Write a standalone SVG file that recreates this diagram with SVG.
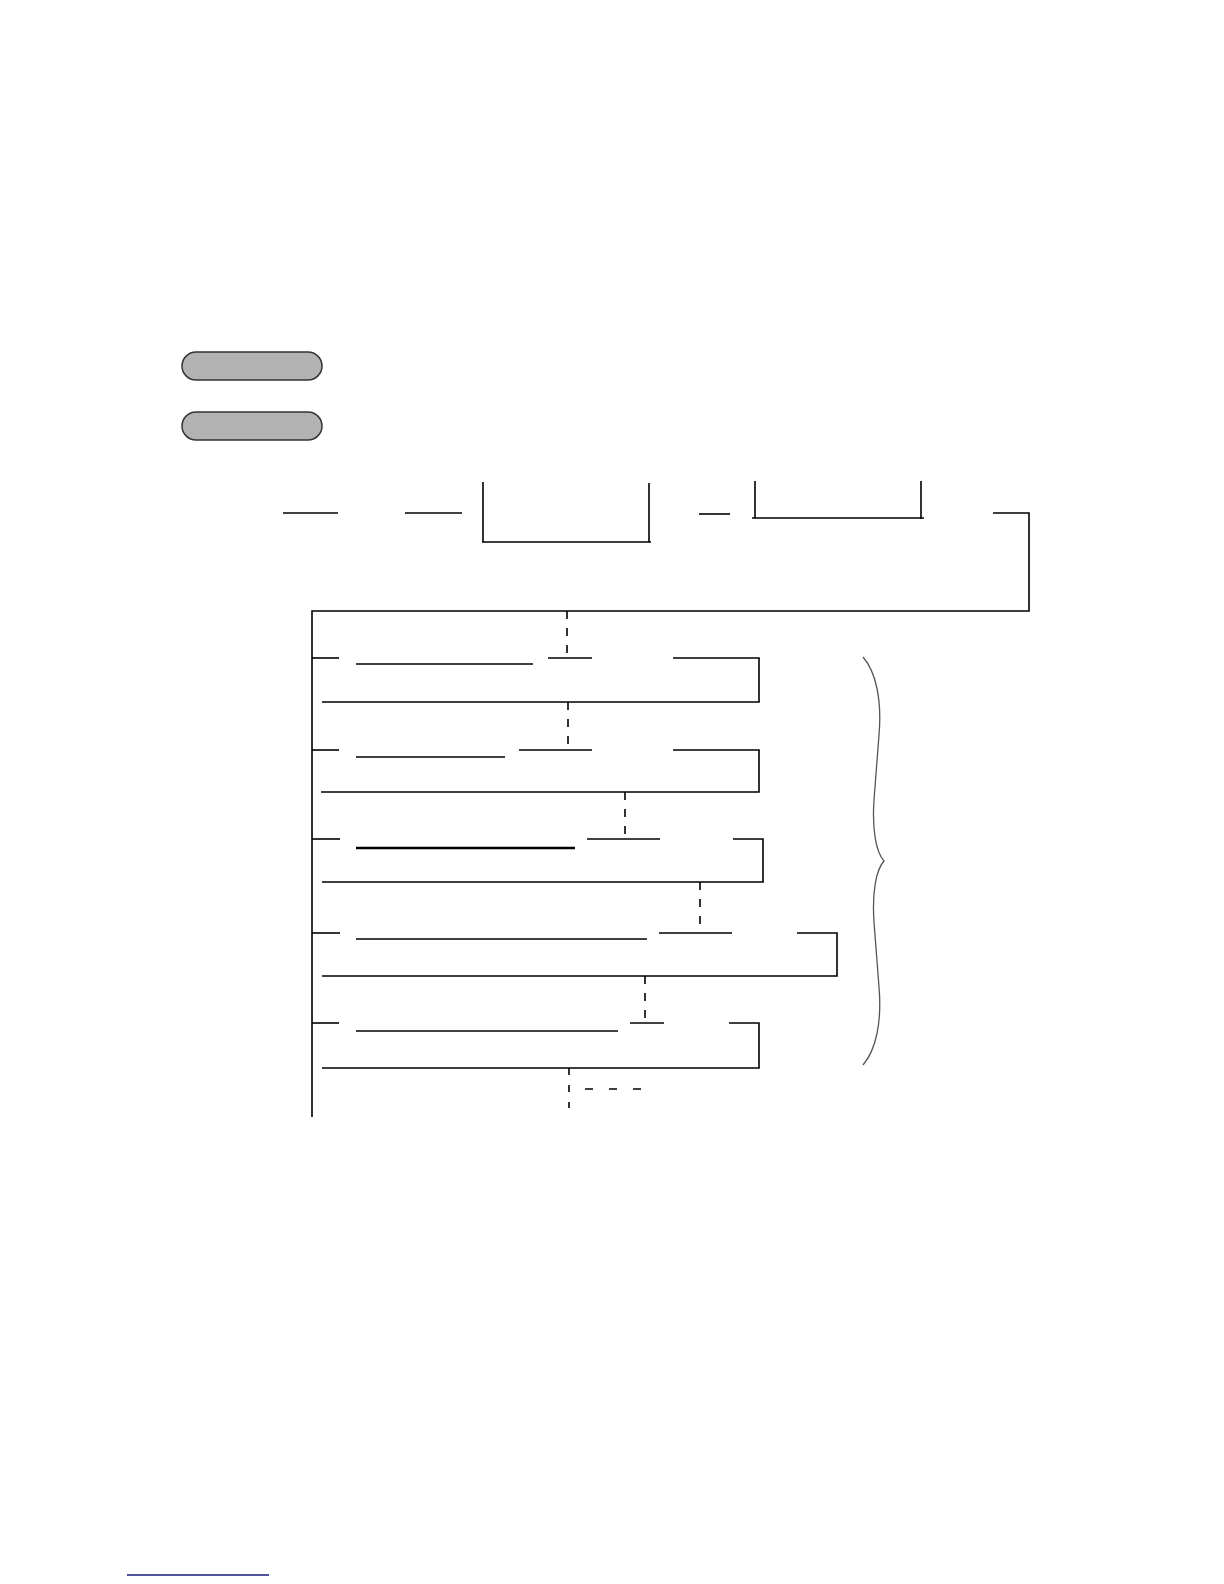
<svg xmlns="http://www.w3.org/2000/svg" width="1224" height="1584" viewBox="0 0 1224 1584">
<style>
.ln{stroke:#000;stroke-width:1.6;fill:none;stroke-linecap:butt}
.dv{stroke:#000;stroke-width:1.6;fill:none;stroke-dasharray:8 9}
.dh{stroke:#000;stroke-width:1.6;fill:none;stroke-dasharray:8 16}
.pill{fill:#b3b3b3;stroke:#333;stroke-width:1.5}
.brace{stroke:#555;stroke-width:1.3;fill:none}
</style>
<rect width="1224" height="1584" fill="#fff"/>
<g id="pill1"><rect class="pill" x="182" y="352" width="140" height="28" rx="14"/></g>
<g id="pill2"><rect class="pill" x="182" y="412" width="140" height="28" rx="14"/></g>
<g id="top-row">
<line class="ln" x1="283" y1="513" x2="338" y2="513"/>
<line class="ln" x1="405" y1="513" x2="462" y2="513"/>
<path class="ln" d="M483,482 V542 M649,483 V542 M482,542 H651"/>
<line class="ln" x1="699" y1="514" x2="730" y2="514"/>
<path class="ln" d="M755,481 V518 M921,481 V519 M752,518 H924"/>
</g>
<g id="connectors">
<path class="ln" d="M993,513 H1029 V611 H312 V1117"/>
<line class="dv" x1="567" y1="611" x2="567" y2="654"/>
<line class="dv" x1="568" y1="702" x2="568" y2="745"/>
<line class="dv" x1="625" y1="792" x2="625" y2="835"/>
<line class="dv" x1="700" y1="882" x2="700" y2="926"/>
<line class="dv" x1="645" y1="976" x2="645" y2="1020"/>
<line class="ln" x1="569" y1="1068" x2="569" y2="1108" style="stroke-dasharray:7 10"/>
<line class="dh" x1="585" y1="1089" x2="645" y2="1089"/>
</g>
<g id="row1">
<line class="ln" x1="312" y1="658" x2="339" y2="658"/>
<line class="ln" x1="356" y1="664" x2="533" y2="664"/>
<line class="ln" x1="548" y1="658" x2="592" y2="658"/>
<path class="ln" d="M673,658 H759 V702 H322"/>
</g>
<g id="row2">
<line class="ln" x1="312" y1="750" x2="339" y2="750"/>
<line class="ln" x1="356" y1="757" x2="505" y2="757"/>
<line class="ln" x1="519" y1="750" x2="592" y2="750"/>
<path class="ln" d="M673,750 H759 V792 H321"/>
</g>
<g id="row3">
<line class="ln" x1="312" y1="839" x2="340" y2="839"/>
<line class="ln" x1="356" y1="848" x2="575" y2="848" style="stroke-width:2.6"/>
<line class="ln" x1="587" y1="839" x2="660" y2="839"/>
<path class="ln" d="M733,839 H763 V882 H322"/>
</g>
<g id="row4">
<line class="ln" x1="312" y1="933" x2="340" y2="933"/>
<line class="ln" x1="356" y1="939" x2="647" y2="939"/>
<line class="ln" x1="659" y1="933" x2="732" y2="933"/>
<path class="ln" d="M797,933 H837 V976 H322"/>
</g>
<g id="row5">
<line class="ln" x1="312" y1="1023" x2="339" y2="1023"/>
<line class="ln" x1="356" y1="1031" x2="618" y2="1031"/>
<line class="ln" x1="630" y1="1023" x2="664" y2="1023"/>
<path class="ln" d="M729,1023 H759 V1068 H322"/>
</g>
<g id="brace">
<path class="brace" d="M863,657 C876,672 882,700 879,735 L874,800 C872,830 876,852 884,861 C876,870 872,892 874,922 L879,987 C882,1022 876,1050 863,1065"/>
</g>
<g id="footer-rule">
<line x1="127" y1="1575" x2="269" y2="1575" stroke="#1a1a80" stroke-width="1.3"/>
</g>
</svg>
